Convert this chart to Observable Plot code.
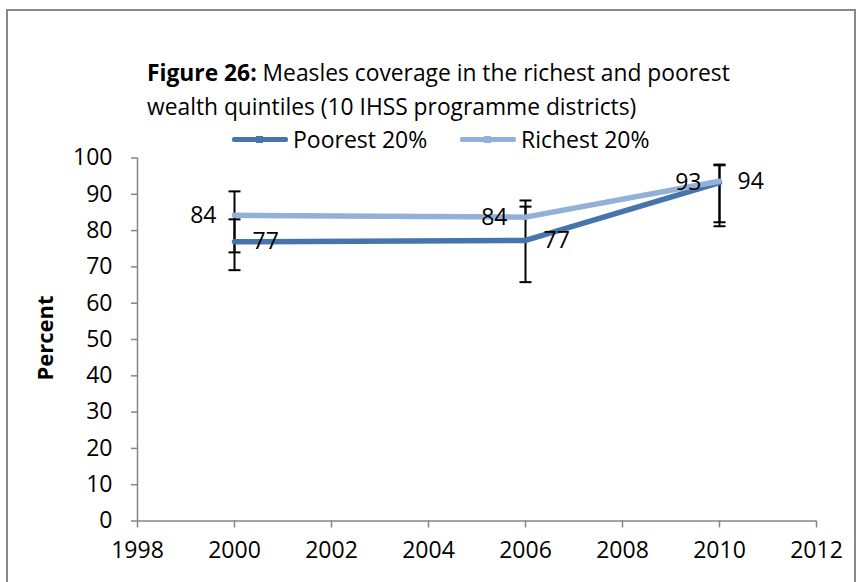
<!DOCTYPE html>
<html>
<head>
<meta charset="utf-8">
<script src="https://cdn.jsdelivr.net/npm/d3@7"></script>
<script src="https://cdn.jsdelivr.net/npm/@observablehq/plot@0.6"></script>
<style>
  html, body { margin: 0; padding: 0; background: #fff; }
  body { width: 858px; height: 582px; position: relative; overflow: hidden; font-family: "Open Sans", sans-serif; }
  #frame { position: absolute; left: 6px; top: 9px; width: 850px; height: 600px; border: 2px solid #898989; box-sizing: border-box; }
  #title { position: absolute; left: 147px; top: 56px; font-size: 22.8px; line-height: 34px; color: #000; white-space: nowrap; }
  #legend { position: absolute; top: 124px; left: 0; width: 858px; height: 30px; }
  #chart { position: absolute; left: 0; top: 0; }
  .item { position: absolute; top: 0; display: flex; align-items: center; font-size: 23px; height: 30px; white-space: nowrap; }
  .sw { position: relative; width: 56px; height: 5px; margin-right: 5px; border-radius: 2px; }
  .sw i { position: absolute; left: 24px; top: -1px; width: 7px; height: 7px; }
</style>
</head>
<body>
<div id="frame"></div>
<div id="chart"></div>
<div id="title"><b>Figure 26:</b> Measles coverage in the richest and poorest<br>wealth quintiles (10 IHSS programme districts)</div>
<div id="legend"></div>
<script>
const years = [2000, 2006, 2010];
const poorest = [76.9, 77.3, 93.2];
const richest = [84.2, 83.7, 93.6];
const poorestLow = [69.1, 65.8, 81.2];
const poorestHigh = [83.1, 88.3, 98.0];
const richestLow = [74.0, 83.7, 82.3];
const richestHigh = [90.8, 86.6, 98.2];
const poorestLabels = ["77", "77", "93"];
const richestLabels = ["84", "84", "94"];
const xTicks = [1998, 2000, 2002, 2004, 2006, 2008, 2010, 2012];
const yTicks = [0, 10, 20, 30, 40, 50, 60, 70, 80, 90, 100];
const seriesNames = ["Poorest 20%", "Richest 20%"];
const colors = ["#4675AB", "#93B1D6"];

const rows = [];
years.forEach((yr, i) => {
  rows.push({series: seriesNames[0], year: yr, value: poorest[i], low: poorestLow[i], high: poorestHigh[i], label: poorestLabels[i], side: i === 2 ? "left" : "right"});
});
years.forEach((yr, i) => {
  rows.push({series: seriesNames[1], year: yr, value: richest[i], low: richestLow[i], high: richestHigh[i], label: richestLabels[i], side: i === 2 ? "right" : "left"});
});

const capEnds = rows.flatMap(d => [{year: d.year, v: d.low}, {year: d.year, v: d.high}]);
const capSymbol = {
  draw(context, size) {
    context.moveTo(-6, 0);
    context.lineTo(6, 0);
  }
};

const chart = Plot.plot({
  width: 858,
  height: 582,
  marginLeft: 137,
  marginRight: 42,
  marginTop: 157.5,
  marginBottom: 61.5,
  style: {fontFamily: "Open Sans, sans-serif", fontSize: "23px", color: "#000", background: "transparent", overflow: "visible"},
  x: {domain: [1998, 2012], ticks: xTicks, tickFormat: "d"},
  y: {domain: [0, 100], ticks: yTicks},
  color: {domain: seriesNames, range: colors},
  marks: [
    Plot.axisX({ticks: xTicks, tickFormat: "d", tickSize: 7, tickPadding: 14, stroke: "#868686", strokeWidth: 1.5, fill: "#000", fontSize: 23, label: null}),
    Plot.axisY({ticks: yTicks, tickSize: 6, tickPadding: 19, stroke: "#868686", strokeWidth: 1.5, fill: "#000", fontSize: 23, label: null}),
    Plot.ruleX([1998], {stroke: "#868686", strokeWidth: 1.5}),
    Plot.ruleY([0], {stroke: "#868686", strokeWidth: 1.5}),
    Plot.ruleX(rows, {x: "year", y1: "low", y2: "high", stroke: "#000", strokeWidth: 2}),
    Plot.dot(capEnds, {x: "year", y: "v", symbol: capSymbol, stroke: "#000", strokeWidth: 2, fill: "none"}),
    Plot.line(rows, {x: "year", y: "value", z: "series", stroke: "series", strokeWidth: 5.5, strokeLinejoin: "round"}),
    Plot.text(rows.filter(d => d.side === "right"), {x: "year", y: "value", text: "label", textAnchor: "start", dx: 18, fill: "#000", fontSize: 23}),
    Plot.text(rows.filter(d => d.side === "left"), {x: "year", y: "value", text: "label", textAnchor: "end", dx: -18, fill: "#000", fontSize: 23})
  ]
});
document.getElementById("chart").appendChild(chart);

// y axis title
d3.select(chart).append("text")
  .attr("transform", "translate(47,338) rotate(-90)")
  .attr("text-anchor", "middle")
  .attr("dominant-baseline", "middle")
  .attr("font-weight", "bold")
  .attr("font-size", 22)
  .attr("fill", "#000")
  .text("Percent");

// legend
const legend = document.getElementById("legend");
const legendX = [232, 460];
seriesNames.forEach((name, i) => {
  const item = document.createElement("div");
  item.className = "item";
  item.style.left = legendX[i] + "px";
  const sw = document.createElement("span");
  sw.className = "sw";
  sw.style.background = colors[i];
  const mk = document.createElement("i");
  mk.style.background = colors[i];
  sw.appendChild(mk);
  item.appendChild(sw);
  const t = document.createElement("span");
  t.textContent = name;
  item.appendChild(t);
  legend.appendChild(item);
});
</script>
</body>
</html>
